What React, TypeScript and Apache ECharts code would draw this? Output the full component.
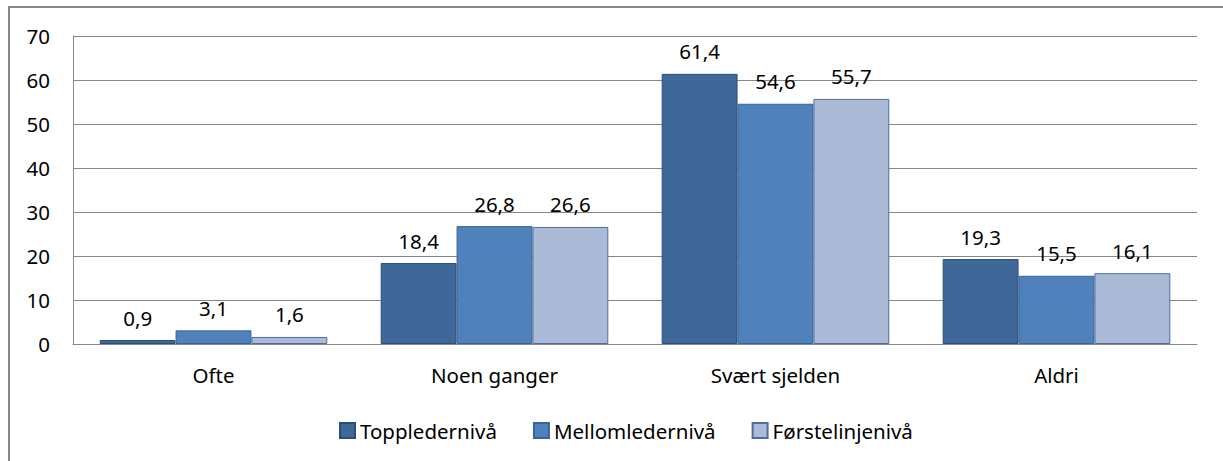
import React, { useEffect, useRef } from "react";
import * as echarts from "echarts";

const categories = ["Ofte", "Noen ganger", "Svært sjelden", "Aldri"];
const seriesNames = ["Toppledernivå", "Mellomledernivå", "Førstelinjenivå"];
const toppleder = [0.9, 18.4, 61.4, 19.3];
const mellomleder = [3.1, 26.8, 54.6, 15.5];
const forstelinje = [1.6, 26.6, 55.7, 16.1];
const fills = ["#3F6797", "#4F81BD", "#AABAD7"];
const borders = ["#2C4D75", "#3A6496", "#4A6E9E"];

export default function App() {
  const ref = useRef<HTMLDivElement>(null);
  useEffect(() => {
    if (!ref.current) return;
    const chart = echarts.init(ref.current, undefined, { renderer: "svg" });
    const font = "'Noto Sans', 'Open Sans', sans-serif";
    const fs = 20.5;
    const data = [toppleder, mellomleder, forstelinje];
    chart.setOption({
      animation: false,
      textStyle: { fontFamily: font },
      graphic: [
        {
          type: "rect",
          shape: { x: 9, y: 7, width: 1300, height: 500 },
          style: { fill: "none", stroke: "#868686", lineWidth: 2 },
          silent: true,
        },
      ],
      grid: { left: 73, right: 26, top: 36, bottom: 117, containLabel: false },
      legend: {
        top: 415,
        left: 334,
        itemWidth: 15,
        itemHeight: 15,
        itemGap: 36,
        icon: "rect",
        textStyle: { fontSize: fs, color: "#000", fontFamily: font },
        data: seriesNames,
      },
      xAxis: {
        type: "category",
        data: categories,
        axisLine: { lineStyle: { color: "#868686", width: 1 } },
        axisTick: { show: false },
        axisLabel: { fontSize: fs, color: "#000", margin: 20, fontFamily: font },
      },
      yAxis: {
        type: "value",
        min: 0,
        max: 70,
        interval: 10,
        axisLine: { show: true, lineStyle: { color: "#868686", width: 1 } },
        axisTick: { show: false },
        splitLine: { lineStyle: { color: "#868686", width: 1 } },
        axisLabel: { fontSize: fs, color: "#000", margin: 23, fontFamily: font },
      },
      series: seriesNames.map((name, i) => ({
        name,
        type: "bar",
        data: data[i],
        barGap: "0%",
        barCategoryGap: "19%",
        itemStyle: { color: fills[i], borderColor: borders[i], borderWidth: 1 },
        label: {
          show: true,
          position: "top",
          distance: 12,
          fontSize: fs,
          color: "#000",
          fontFamily: font,
          formatter: (p: any) => String(p.value).replace(".", ","),
        },
      })),
    });
    return () => chart.dispose();
  }, []);
  return (
    <div
      ref={ref}
      style={{ position: "absolute", left: 0, top: 0, width: 1223, height: 461, background: "#fff" }}
    />
  );
}
